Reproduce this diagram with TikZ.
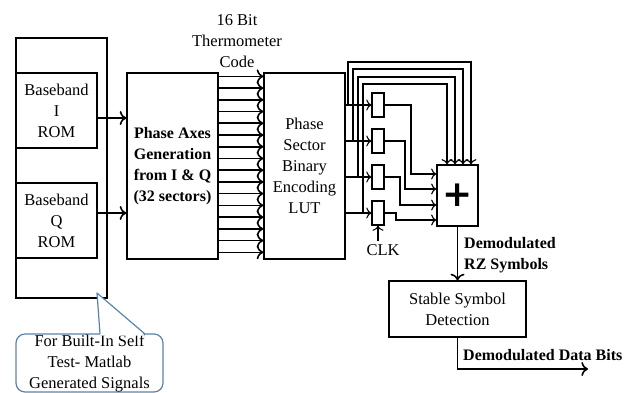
\documentclass[tikz,border=0pt]{standalone}
\usepackage{fontspec}
\setmainfont{Liberation Serif}
\usepackage{tikz}
\usetikzlibrary{positioning,arrows.meta}
\newfontfamily\plusfont{DejaVu Sans}

\begin{document}
\begin{tikzpicture}[
            x=1pt, y=-1pt,
            >={To[scale=1.3]},
            every node/.style={font=\fontsize{16.5}{21}\selectfont, inner sep=0pt},
            blk/.style={draw, line width=1.3pt, align=center},
            bold/.style={font=\fontsize{16}{21}\selectfont\bfseries},
            bus/.style={->, line width=1.6pt},
            wire/.style={->, line width=1.1pt},
            noteline/.style={draw=noteblue, line width=1.2pt}
        ]
            \definecolor{noteblue}{RGB}{88,132,172}
            \useasboundingbox (0,0) rectangle (640,392);

            % ROM blocks
            \node[blk, minimum width=91, minimum height=260] (rom) at (61.5,168) {};
            \node[blk, minimum width=81, minimum height=75] (romI) at (56.5,110.5) {Baseband\\I\\ROM};
            \node[blk, minimum width=81, minimum height=75] (romQ) at (56.5,220.5) {Baseband\\Q\\ROM};

            % Processing blocks
            \node[blk, bold, minimum width=91, minimum height=186] (pax) at (172.5,166)
                {Phase Axes\\Generation\\from I \& Q\\(32 sectors)};
            \node[blk, minimum width=81, minimum height=186] (lut) at (304.5,166)
                {Phase\\Sector\\Binary\\Encoding\\LUT};
            \node[align=center] (therm) at (237,41) {16 Bit\\Thermometer\\Code};

            \draw[bus] ([yshift=-7.5pt]romI.east) -- ([yshift=-7.5pt]romI.east -| pax.west);
            \draw[bus] ([yshift=7.5pt]romQ.east) -- ([yshift=7.5pt]romQ.east -| pax.west);

            % 16 bit thermometer code
            \foreach \i in {0,...,15}{
                \draw[bus] ([yshift={-4pt-\i*11.73pt}]pax.north east)
                    -- ([yshift={-4pt-\i*11.73pt}]lut.north west);
            }

            % Adder and registers
            \node[blk, minimum width=41, minimum height=61, font=\fontsize{36}{36}\selectfont\plusfont\bfseries]
                (add) at (457.5,195.5) {+};
            \foreach \i/\xs/\xu/\yu/\xd/\yd in {1/348/471/62/411/174, 2/353/463/69/405/189,
                                                  3/358/455/77/400/205, 4/363/447/84/396/220}{
                \node[blk, line width=1.1pt, minimum width=12, minimum height=24]
                    (reg\i) at (378,{105+(\i-1)*36}) {};
                \draw[wire] (reg\i.west -| lut.east) -- (reg\i.west);
                \draw[wire] (\xs,{105+(\i-1)*36}) -- (\xs,\yu) -- (\xu,\yu) -- (\xu,0 |- add.north);
                \draw[wire] (reg\i.east) -- (\xd,{105+(\i-1)*36}) -- (\xd,\yd) -- (add.west |- 0,\yd);
            }
            \node (clk) at (383,250) {CLK};
            \draw[wire] (reg4.south |- clk.north) ++(0,-3) -- (reg4.south);

            % Symbol detection
            \node[blk, minimum width=137, minimum height=56] (stable) at (457.5,309)
                {Stable Symbol\\Detection};
            \coordinate (bits) at (588,369);
            \draw[bus] (add.south) -- (stable.north);
            \draw[bus] (stable.south) |- (bits);
            \node[bold, align=left, anchor=west] (rz) at (464,255) {Demodulated\\RZ Symbols};
            \node[bold, anchor=west] (dbits) at (463,355) {Demodulated Data Bits};

            % Callout
            \node[noteline, rounded corners=9pt, align=center, minimum width=147, minimum height=58,
                  fill=white] (note) at (89.5,363) {For Built-In Self\\Test- Matlab\\Generated Signals};
            \fill[white] (100.2,335.5) -- (97,293) -- (144.8,335.5) -- cycle;
            \draw[noteline, line join=round] (100,334) -- (97,293) -- (145,334);
        \end{tikzpicture}
\end{document}
